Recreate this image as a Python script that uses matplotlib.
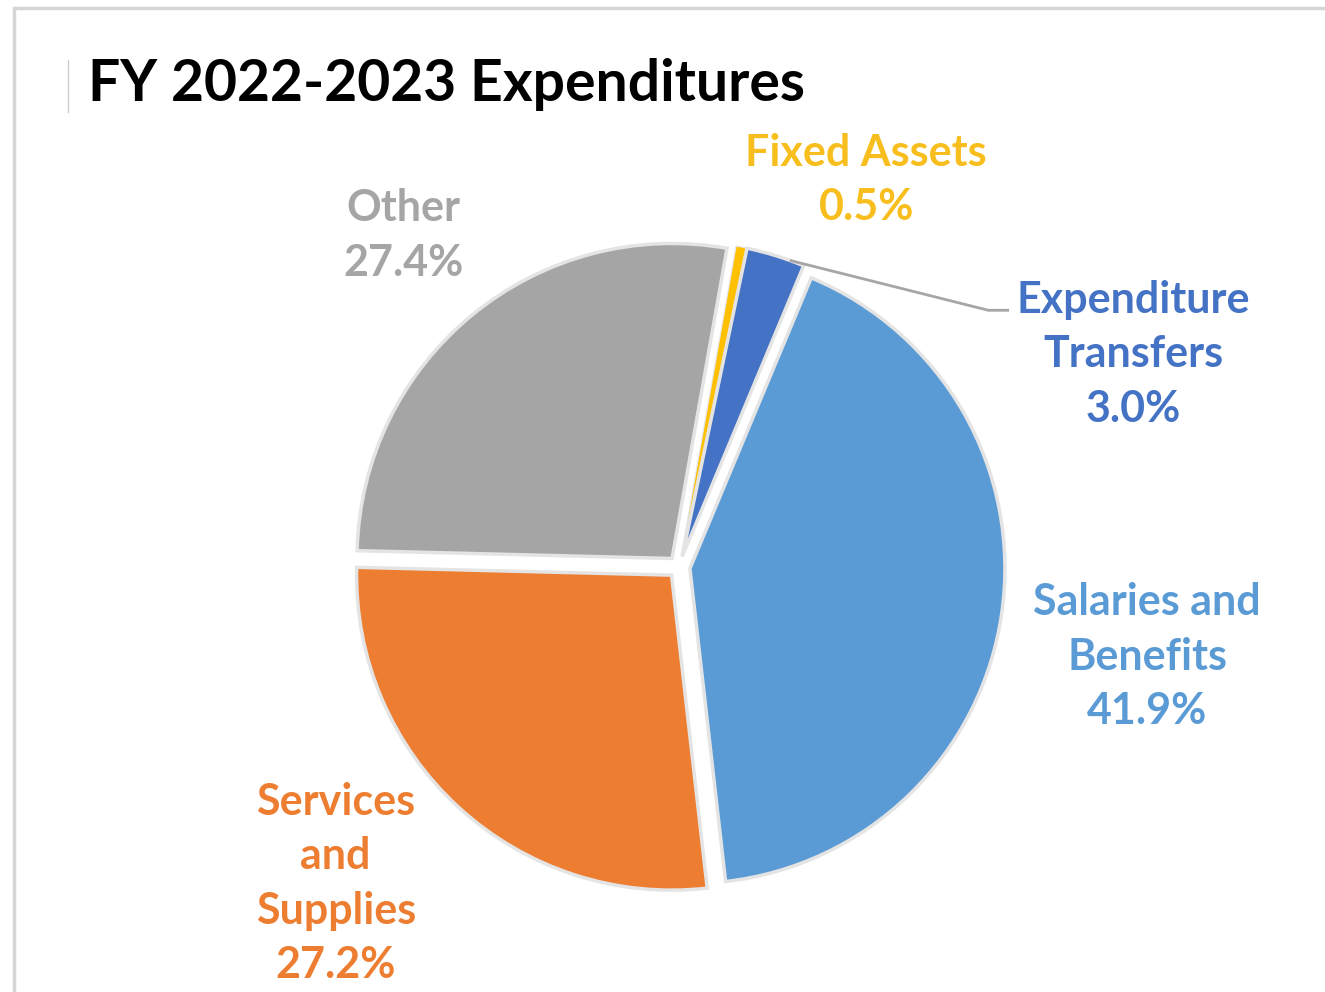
import matplotlib
matplotlib.use("Agg")
import matplotlib.pyplot as plt
from matplotlib.patches import Rectangle
from matplotlib.lines import Line2D
import numpy as np

title = "FY 2022-2023 Expenditures"
categories = ["Salaries and\nBenefits", "Expenditure\nTransfers", "Fixed Assets",
              "Other", "Services\nand\nSupplies"]
shares = [41.9, 3.0, 0.5, 27.4, 27.2]
colors = ["#5B9BD5", "#4472C4", "#FFC000", "#A5A5A5", "#ED7D31"]
label_colors = ["#5B9BD5", "#4472C4", "#F7BE1E", "#A5A5A5", "#ED7D31"]
# label centres, in pie-radius units
label_pos = [(1.486, -0.285), (1.442, 0.675), (0.594, 1.229), (-0.876, 1.053), (-1.090, -1.005)]

W, H, DPI = 1325, 992, 100
fig = plt.figure(figsize=(W / DPI, H / DPI), dpi=DPI)
fig.patch.set_facecolor("white")

# pie centre and radius in pixels
cx, cy, R = 679, 567, 315
half = 2.2
side = 2 * half * R
ax = fig.add_axes([(cx - side / 2) / W, (H - cy - side / 2) / H, side / W, side / H])

wedges, _ = ax.pie(shares, colors=colors, startangle=-83.5, counterclock=True,
                   explode=[0.035] * len(shares), radius=1,
                   wedgeprops=dict(edgecolor="#E4E4E4", linewidth=2.5))
# keep the thin slice visible
wedges[2].set_linewidth(0.8)
ax.set_xlim(-half, half)
ax.set_ylim(-half, half)
ax.axis("off")

font = "Lato"
for i, (cat, val) in enumerate(zip(categories, shares)):
    x, y = label_pos[i]
    ax.text(x, y, f"{cat}\n{val:.1f}%", ha="center", va="center",
            color=label_colors[i], fontsize=31, fontweight="bold",
            family=font, linespacing=1.44)
    if i == 1:
        # leader line from the small slice to its label
        w = wedges[i]
        th = np.deg2rad(w.theta1 + 0.25 * (w.theta2 - w.theta1))
        px = w.center[0] + np.cos(th)
        py = w.center[1] + np.sin(th)
        ax.plot([px, x - 0.46, x - 0.394], [py, y + 0.14, y + 0.14],
                color="#A6A6A6", lw=2, solid_capstyle="butt")

# title
fig.text(88 / W, 1 - 101 / H, title, ha="left", va="baseline", fontsize=41,
         fontweight="bold", family=font, color="black")

# surrounding frame of the screenshot
fig.add_artist(Rectangle((14 / W, -0.05), (W + 20) / W, (H - 8) / H + 0.05,
                         transform=fig.transFigure, fill=False,
                         edgecolor="#D6D6D6", lw=2.5))
fig.add_artist(Line2D([68 / W, 68 / W], [1 - 60 / H, 1 - 112 / H],
                      transform=fig.transFigure, color="#CFCFCF", lw=1))

fig.savefig("out.png", dpi=DPI)
